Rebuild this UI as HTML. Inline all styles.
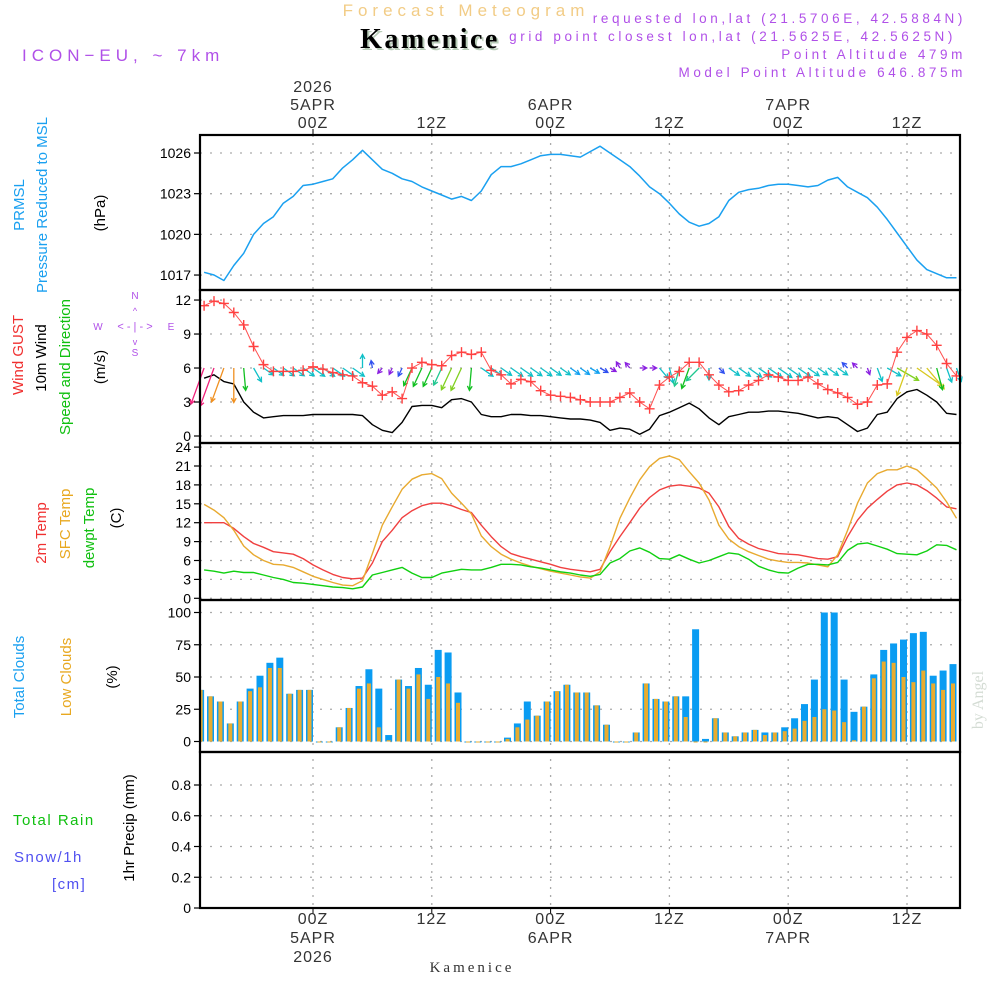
<!DOCTYPE html>
<html><head><meta charset="utf-8"><style>
html,body{margin:0;padding:0;background:#fff;}
svg{display:block;font-family:"Liberation Sans",sans-serif;}
</style></head><body>
<svg id="chart" width="1000" height="1000" viewBox="0 0 1000 1000" xmlns="http://www.w3.org/2000/svg">
<rect x="0" y="0" width="1000" height="1000" fill="#fff"/>
<text x="466" y="16" text-anchor="middle" font-size="17" letter-spacing="5" fill="#f2cc86">Forecast Meteogram</text>
<text x="432" y="50" text-anchor="middle" font-family="Liberation Serif,serif" font-weight="bold" font-size="28" letter-spacing="2.5" fill="#b8ccb8">Kamenice</text>
<text x="430" y="48" text-anchor="middle" font-family="Liberation Serif,serif" font-weight="bold" font-size="28" letter-spacing="2.5" fill="#000">Kamenice</text>
<text x="22" y="61" font-size="17" letter-spacing="5" fill="#b050e8">ICON−EU, ~ 7km</text>
<g font-size="13.5" letter-spacing="3.6" fill="#b050e8" text-anchor="end">
<text x="966" y="23">requested lon,lat (21.5706E, 42.5884N)</text>
<text x="956" y="41">grid point closest lon,lat (21.5625E, 42.5625N)</text>
<text x="966" y="59">Point Altitude 479m</text>
<text x="966" y="77">Model Point Altitude 646.875m</text>
</g>
<g id="grid"></g>
<g id="marks"></g>
<g id="frames"></g>
<g id="labels" font-size="14"></g>

<g font-size="15">
<text transform="translate(24,205) rotate(-90)" text-anchor="middle" fill="#1aa0f0">PRMSL</text>
<text transform="translate(47,205) rotate(-90)" text-anchor="middle" fill="#1aa0f0">Pressure Reduced to MSL</text>
<text transform="translate(105,213) rotate(-90)" text-anchor="middle" fill="#000">(hPa)</text>
<text transform="translate(23,355) rotate(-90)" text-anchor="middle" fill="#f03030">Wind GUST</text>
<text transform="translate(46,358) rotate(-90)" text-anchor="middle" fill="#000">10m Wind</text>
<text transform="translate(70,367) rotate(-90)" text-anchor="middle" fill="#10c010">Speed and Direction</text>
<text transform="translate(105,367) rotate(-90)" text-anchor="middle" fill="#000">(m/s)</text>
<g fill="#b050e8" font-size="10" text-anchor="middle">
<text x="135" y="299">N</text><text x="135" y="356">S</text><text x="98" y="330">W</text><text x="171" y="330">E</text>
<text x="135" y="330" font-size="11">&lt; - | - &gt;</text>
<text x="135" y="314" font-size="9">^</text><text x="135" y="345" font-size="9">v</text>
</g>
<text transform="translate(46,533) rotate(-90)" text-anchor="middle" fill="#f03030">2m Temp</text>
<text transform="translate(70,524) rotate(-90)" text-anchor="middle" fill="#e8a820">SFC Temp</text>
<text transform="translate(94,528) rotate(-90)" text-anchor="middle" fill="#10c010">dewpt Temp</text>
<text transform="translate(121,518) rotate(-90)" text-anchor="middle" fill="#000">(C)</text>
<text transform="translate(24,677) rotate(-90)" text-anchor="middle" fill="#1aa0f0">Total Clouds</text>
<text transform="translate(71,677) rotate(-90)" text-anchor="middle" fill="#e8a820">Low Clouds</text>
<text transform="translate(117,677) rotate(-90)" text-anchor="middle" fill="#000">(%)</text>
<text x="13" y="825" fill="#10c010" letter-spacing="1.5">Total  Rain</text>
<text x="14" y="862" fill="#5050f0" letter-spacing="1.5">Snow/1h</text>
<text x="52" y="889" fill="#5050f0" letter-spacing="1.5">[cm]</text>
<text transform="translate(134,828) rotate(-90)" text-anchor="middle" fill="#000">1hr Precip (mm)</text>
</g>
<text transform="translate(983,700) rotate(-90)" text-anchor="middle" font-family="Liberation Serif,serif" font-size="16" fill="#d4dcd4">by Angel</text>
<text x="472" y="972" text-anchor="middle" font-family="Liberation Serif,serif" font-size="15" letter-spacing="3" fill="#333">Kamenice</text>
</svg>
<script>
// time: hours relative to 00Z 5 APR 2026
const hours = []; for (let h = -11; h <= 65; h++) hours.push(h);
const pressure = [1017.2,1017.0,1016.6,1017.7,1018.6,1020.0,1020.8,1021.3,1022.3,1022.8,1023.6,1023.7,1023.9,1024.1,1024.9,1025.5,1026.2,1025.5,1024.8,1024.5,1024.1,1023.9,1023.5,1023.2,1022.9,1022.6,1022.8,1022.5,1023.2,1024.4,1025.0,1025.0,1025.2,1025.5,1025.8,1025.9,1025.9,1025.8,1025.7,1026.1,
1026.5,1026.0,1025.5,1025.0,1024.3,1023.5,1023.0,1022.3,1021.5,1020.9,1020.6,1020.8,1021.3,1022.5,1023.1,1023.3,1023.4,1023.6,1023.7,1023.7,1023.6,1023.5,1023.6,1024.0,1024.2,1023.5,1023.1,1022.7,1022.0,1021.1,1020.1,1019.1,1018.1,1017.4,1017.1,1016.8,1016.8];
const gust = [11.5,11.9,11.7,10.9,9.8,7.9,6.3,5.7,5.7,5.7,5.8,6.1,5.9,5.6,5.4,5.3,4.7,4.4,3.6,3.9,3.3,6.0,6.5,6.3,6.2,7.1,7.4,7.2,7.4,5.8,5.4,4.6,5.0,4.8,4.0,3.6,3.5,3.4,3.2,3.0,
3.0,3.0,3.4,3.8,3.0,2.4,4.5,5.2,5.7,6.5,6.5,5.4,4.5,3.9,4.0,4.5,4.9,5.4,5.2,4.9,4.9,5.2,4.6,4.1,3.8,3.4,2.8,3.0,4.5,4.6,7.4,8.7,9.3,9.0,8.0,6.4,5.3];
const windSpeed = [5.1,5.4,4.8,4.6,3.0,2.1,1.6,1.7,1.8,1.8,1.8,1.9,1.9,1.9,1.9,1.9,1.8,1.0,0.5,0.3,1.2,2.6,2.7,2.7,2.5,3.2,3.3,3.0,1.9,1.7,1.7,1.9,1.9,1.8,1.8,1.7,1.6,1.5,1.5,1.4,
1.2,0.5,0.7,0.6,0.15,0.6,1.8,2.1,2.5,2.9,2.4,1.6,1.0,1.7,1.9,2.1,2.1,2.2,2.2,2.1,2.0,1.8,1.6,1.7,1.6,1.0,0.4,0.7,1.9,2.1,3.3,3.9,4.1,3.6,3.0,2.0,1.9];
const windDir = [20,20,20,0,355,330,305,305,305,305,305,305,305,305,305,305,180,170,40,25,25,25,25,25,25,25,25,5,305,305,305,305,305,305,305,305,305,305,305,300,
300,300,150,140,270,270,320,345,15,20,45,0,315,305,305,305,305,305,305,305,305,305,305,305,305,135,135,340,340,300,300,20,305,320,345,340,340];
const temp2m = [12.0,12.0,12.0,11.1,9.8,8.7,8.1,7.4,7.2,7.0,6.3,5.3,4.5,3.8,3.3,3.1,3.2,5.6,9.0,10.8,12.8,13.9,14.7,15.1,15.1,14.7,14.1,13.6,11.6,9.8,8.2,7.1,6.6,6.2,5.8,5.4,4.9,4.6,4.4,4.2,
4.6,7.4,9.8,12.0,14.3,16.0,17.2,17.8,18.0,17.8,17.5,16.7,14.5,11.4,9.5,8.6,7.9,7.5,7.1,7.0,6.9,6.6,6.3,6.2,6.6,9.8,12.4,14.3,15.7,17.0,18.0,18.3,18.0,17.1,15.9,14.5,14.2];
const tempSfc = [14.9,14.0,12.8,10.8,8.3,6.9,6.0,5.4,5.3,4.9,4.2,3.5,3.0,2.5,2.1,2.0,2.8,7.1,11.6,14.5,17.3,18.9,19.6,19.8,19.0,16.7,15.1,13.4,9.9,8.2,7.0,6.2,5.6,5.1,4.7,4.3,4.0,3.7,3.4,3.2,
4.2,8.2,12.7,15.9,18.8,20.9,22.2,22.6,22.0,20.1,18.3,15.6,11.6,9.4,8.2,7.4,6.8,6.2,5.9,5.7,5.7,5.6,5.3,5.0,6.9,10.8,15.1,18.3,19.8,20.4,20.4,21.0,20.4,19.0,17.5,15.3,12.7];
const dewpoint = [4.5,4.3,4.0,4.3,4.1,4.1,3.7,3.3,3.0,2.5,2.4,2.2,2.0,1.8,1.7,1.5,1.8,3.7,4.1,4.5,4.9,4.0,3.3,3.3,4.0,4.3,4.6,4.5,4.5,4.9,5.4,5.4,5.3,5.0,4.8,4.5,4.2,4.0,3.7,3.5,
3.8,5.6,6.3,7.5,8.0,7.3,6.3,6.2,6.9,6.2,5.6,6.0,6.6,7.2,7.0,6.2,5.1,4.5,4.1,4.0,4.8,5.4,5.4,5.3,5.7,7.6,8.6,8.8,8.3,7.8,7.1,7.0,6.9,7.5,8.5,8.4,7.7];
const totalClouds = [40,35,31,14,31,41,51,61,65,37,40,40,0,0,11,26,43,56,41,5,48,43,57,44,71,69,38,0,0,0,0,3,14,31,20,31,39,44,38,38,
28,13,0,0,7,45,33,31,35,35,87,2,18,7,4,7,9,7,7,11,18,29,48,100,100,48,23,27,52,71,76,79,84,85,51,55,60];
const lowClouds = [40,35,31,14,31,39,42,57,57,37,40,40,0,0,11,26,41,45,11,1,48,41,52,33,50,45,30,0,0,0,0,2,11,17,20,31,39,44,38,38,
28,13,0,0,7,45,33,31,35,19,0,0,18,7,4,7,9,5,7,8,10,16,19,25,24,15,1,27,49,62,61,50,46,55,45,40,45];
const precip = hours.map(() => 0);
const pressureTicks = [1017,1020,1023,1026];
const windTicks = [0,3,6,9,12];
const tempTicks = [0,3,6,9,12,15,18,21,24];
const cloudTicks = [0,25,50,75,100];
const precipTicks = [0,0.2,0.4,0.6,0.8];
const timeTickHours = [0,12,24,36,48,60];
const topTickLabels = [["2026","5APR","00Z"],["12Z"],["6APR","00Z"],["12Z"],["7APR","00Z"],["12Z"]];
const bottomTickLabels = [["00Z","5APR","2026"],["12Z"],["00Z","6APR"],["12Z"],["00Z","7APR"],["12Z"]];

const NS = "http://www.w3.org/2000/svg";
const L = 200, R = 960;
const xT = t => 313 + t * 9.9;
const yP = p => 153 + (1026 - p) * 13.56;
const yW = v => 436 - v * 11.33;
const yTm = v => 598.3 - v * 6.3;
const yC = c => 741.5 - c * 1.29;
const yR = r => 908 - r * 153.75;
const panels = [[135,290],[290,443],[443,600],[600,752],[752,908]];

function mk(tag, attrs, parent) {
  const e = document.createElementNS(NS, tag);
  for (const k in attrs) e.setAttribute(k, attrs[k]);
  parent.appendChild(e);
  return e;
}
const grid = document.getElementById('grid');
const marks = document.getElementById('marks');
const frames = document.getElementById('frames');
const labels = document.getElementById('labels');

function yAxis(ticks, fy, name, fmt) {
  ticks.forEach(v => {
    const y = fy(v);
    const g = mk('line', {x1: L, x2: R, y1: y, y2: y, stroke: '#aaa', 'stroke-width': 1.3, 'stroke-dasharray': '2 8'}, grid);
    
    
    mk('line', {x1: L - 6, x2: L, y1: y, y2: y, stroke: '#000', 'stroke-width': 1.2}, frames);
    const t = mk('text', {x: L - 9, y: y + 5, 'text-anchor': 'end', fill: '#000'}, labels);
    
    
    t.textContent = fmt ? fmt(v) : v;
  });
}
yAxis(pressureTicks, yP, 'pressure-y');
yAxis(windTicks, yW, 'wind-y');
yAxis(tempTicks, yTm, 'temp-y');
yAxis(cloudTicks, yC, 'clouds-y');
yAxis(precipTicks, yR, 'precip-y', v => v === 0 ? '0' : v.toFixed(1));

timeTickHours.forEach((h, i) => {
  const x = xT(h);
  const g = mk('line', {x1: x, x2: x, y1: 135, y2: 908, stroke: '#aaa', 'stroke-width': 1.3, 'stroke-dasharray': '2 6'}, grid);
  
  
  mk('line', {x1: x, x2: x, y1: 129, y2: 135, stroke: '#000', 'stroke-width': 1}, frames);
  mk('line', {x1: x, x2: x, y1: 908, y2: 914, stroke: '#000', 'stroke-width': 1}, frames);
  const top = topTickLabels[i];
  top.forEach((s, j) => {
    const t = mk('text', {x: x, y: 128 - (top.length - 1 - j) * 18, 'text-anchor': 'middle', fill: '#333', 'font-size': 16, 'letter-spacing': 1}, labels);
    
    
    t.textContent = s;
  });
  bottomTickLabels[i].forEach((s, j) => {
    const t = mk('text', {x: x, y: 924 + j * 19, 'text-anchor': 'middle', fill: '#333', 'font-size': 16, 'letter-spacing': 1}, labels);
    
    
    t.textContent = s;
  });
});

function line(arr, fy, color, name, w) {
  const d = arr.map((v, i) => (i ? 'L' : 'M') + xT(hours[i]).toFixed(1) + ',' + fy(v).toFixed(1)).join('');
  const p = mk('path', {d: d, fill: 'none', stroke: color, 'stroke-width': w || 1.4, 'stroke-linejoin': 'round'}, marks);
  
  
}

totalClouds.forEach((c, i) => {
  const cx = xT(hours[i]) - 3.5;
  const b = mk('rect', {x: Math.max(L, cx - 3.5), y: yC(c), width: Math.max(0, Math.min(cx + 3.5, R) - Math.max(L, cx - 3.5)), height: Math.max(1, yC(0) - yC(c)), fill: '#0a9cf2'}, marks);
  
  
  const lc = lowClouds[i];
  const o = mk('rect', {x: Math.max(L, cx - 2), y: yC(lc), width: Math.max(0, Math.min(cx + 2, R) - Math.max(L, cx - 2)), height: Math.max(1, yC(0) - yC(lc)), fill: '#e8ac30'}, marks);
  
  
});

precip.forEach((r, i) => {
  const cx = xT(hours[i]);
  const b = mk('rect', {x: cx - 3, y: yR(r) - 1, width: 6, height: Math.max(1, yR(0) - yR(r)) + 1, fill: '#222'}, marks);
  
  
});

line(pressure, yP, '#1aa0f0', 'pressure-line', 1.5);
line(temp2m, yTm, '#f04040', 'temp-2m-line');
line(tempSfc, yTm, '#e8aa30', 'temp-sfc-line');
line(dewpoint, yTm, '#10d010', 'dewpoint-line');
line(windSpeed, yW, '#000', 'wind-speed-line');

function arrowColor(s) {
  if (s < 0.8) return '#8a20e0';
  if (s < 1.4) return '#3050f0';
  if (s < 1.6) return '#10a0f0';
  if (s < 2.3) return '#10c0c8';
  if (s < 2.6) return '#20c890';
  if (s < 3.1) return '#10c020';
  if (s < 3.6) return '#80d020';
  if (s < 4.2) return '#d8c820';
  if (s < 5.0) return '#f09020';
  return '#f0207a';
}
windDir.forEach((d, i) => {
  const s = windSpeed[i];
  const len = Math.max(7, s * 7.5);
  const to = (d + 180) * Math.PI / 180;
  const x0 = xT(hours[i]), y0 = 368;
  const ux = Math.sin(to), uy = -Math.cos(to);
  const x1 = x0 + ux * len, y1 = y0 + uy * len;
  const col = arrowColor(s);
  const a = Math.atan2(uy, ux), hl = 5;
  const h1x = x1 - hl * Math.cos(a - 0.5), h1y = y1 - hl * Math.sin(a - 0.5);
  const h2x = x1 - hl * Math.cos(a + 0.5), h2y = y1 - hl * Math.sin(a + 0.5);
  const p = mk('path', {d: `M${x0},${y0}L${x1},${y1}M${h1x},${h1y}L${x1},${y1}L${h2x},${h2y}`, stroke: col, 'stroke-width': 1.3, fill: 'none'}, marks);
  
  
});

line(gust, yW, '#ff5050', 'gust-line', 1);
gust.forEach((g, i) => {
  const x = xT(hours[i]), y = yW(g);
  const m = mk('path', {d: `M${x - 5},${y}L${x + 5},${y}M${x},${y - 5}L${x},${y + 5}`, stroke: '#ff4040', 'stroke-width': 1.4}, marks);
  
  
});

panels.forEach((p, i) => {
  const r = mk('rect', {x: L, y: p[0], width: R - L, height: p[1] - p[0], fill: 'none', stroke: '#000', 'stroke-width': 2.2}, frames);
  
  
});
</script>
</body></html>
